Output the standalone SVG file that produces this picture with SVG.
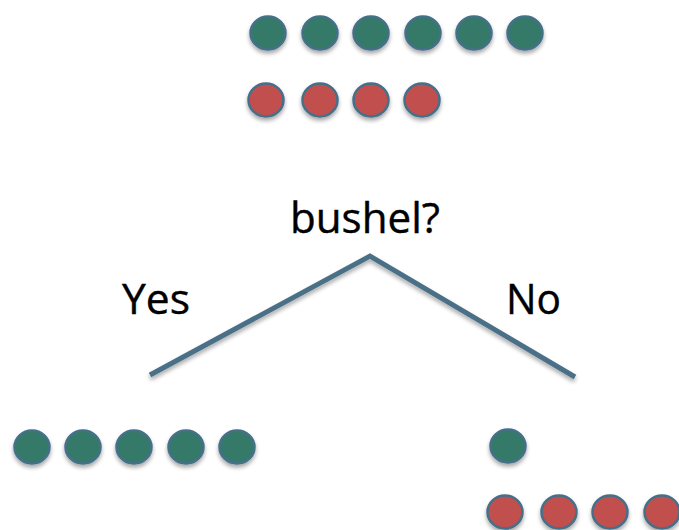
<svg xmlns="http://www.w3.org/2000/svg" width="679" height="530" viewBox="0 0 679 530">
<defs>
<filter id="sh" x="-50%" y="-50%" width="200%" height="200%">
<feGaussianBlur in="SourceAlpha" stdDeviation="2"/>
<feOffset dx="0" dy="3" result="b"/>
<feComponentTransfer><feFuncA type="linear" slope="0.35"/></feComponentTransfer>
<feMerge><feMergeNode/><feMergeNode in="SourceGraphic"/></feMerge>
</filter>
</defs>
<style>
.g{fill:#367a67;stroke:#456f8a;stroke-width:2.5;filter:url(#sh)}
.r{fill:#c0504d;stroke:#456f8a;stroke-width:2.5;filter:url(#sh)}
.t{font-family:"Open Sans","Liberation Sans",sans-serif;font-size:42px;fill:#000;stroke:#000;stroke-width:0.4}
.e{fill:none;stroke:#4a6f86;stroke-width:5;stroke-linecap:butt;stroke-linejoin:miter;filter:url(#sh)}
</style>
<rect width="679" height="530" fill="#fff"/>
<g id="top-green">
<ellipse class="g" cx="268" cy="33" rx="17.5" ry="16.5"/>
<ellipse class="g" cx="320" cy="33" rx="17.5" ry="16.5"/>
<ellipse class="g" cx="371" cy="33" rx="17.5" ry="16.5"/>
<ellipse class="g" cx="423" cy="33" rx="17.5" ry="16.5"/>
<ellipse class="g" cx="474" cy="33" rx="17.5" ry="16.5"/>
<ellipse class="g" cx="525" cy="33" rx="17.5" ry="16.5"/>
</g>
<g id="top-red">
<ellipse class="r" cx="266" cy="100" rx="17.5" ry="16.5"/>
<ellipse class="r" cx="320" cy="100" rx="17.5" ry="16.5"/>
<ellipse class="r" cx="371" cy="100" rx="17.5" ry="16.5"/>
<ellipse class="r" cx="422" cy="100" rx="17.5" ry="16.5"/>
</g>
<g id="question">
<text class="t" x="290" y="233" textLength="150" lengthAdjust="spacingAndGlyphs">bushel?</text>
</g>
<g id="connectors">
<polyline class="e" points="150,375 370,256 575,377"/>
</g>
<g id="yes-label"><text class="t" x="122" y="314" textLength="68" lengthAdjust="spacingAndGlyphs">Yes</text></g>
<g id="no-label"><text class="t" x="506" y="314" textLength="55" lengthAdjust="spacingAndGlyphs">No</text></g>
<g id="left-green">
<ellipse class="g" cx="32" cy="447" rx="17.5" ry="16.5"/>
<ellipse class="g" cx="83" cy="447" rx="17.5" ry="16.5"/>
<ellipse class="g" cx="134" cy="447" rx="17.5" ry="16.5"/>
<ellipse class="g" cx="186" cy="447" rx="17.5" ry="16.5"/>
<ellipse class="g" cx="237" cy="447" rx="17.5" ry="16.5"/>
</g>
<g id="right-green">
<ellipse class="g" cx="508" cy="446" rx="17.5" ry="16.5"/>
</g>
<g id="right-red">
<ellipse class="r" cx="505" cy="512" rx="17.5" ry="16.5"/>
<ellipse class="r" cx="559" cy="512" rx="17.5" ry="16.5"/>
<ellipse class="r" cx="610" cy="512" rx="17.5" ry="16.5"/>
<ellipse class="r" cx="662" cy="512" rx="17.5" ry="16.5"/>
</g>
</svg>
